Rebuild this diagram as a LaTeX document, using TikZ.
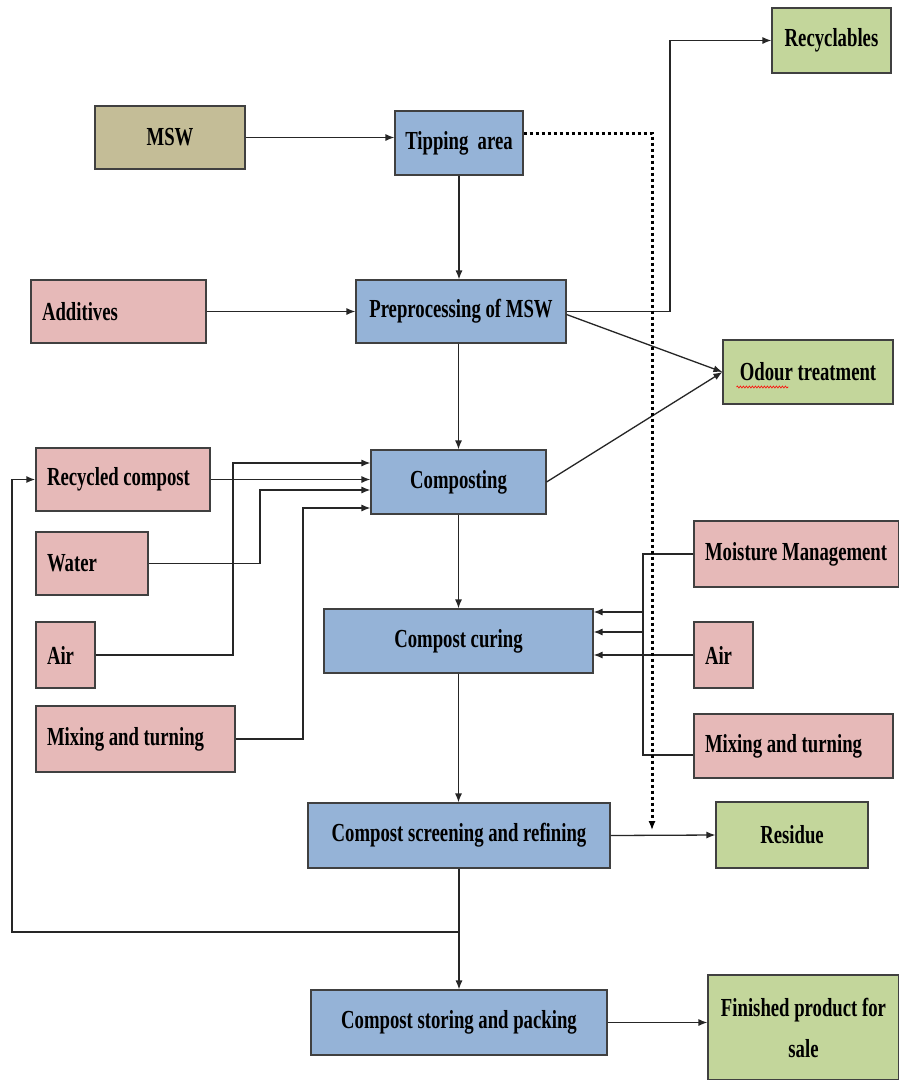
\documentclass[tikz,border=0pt]{standalone}
\usepackage{fontspec}
\setmainfont{Liberation Serif}[FakeStretch=0.72]
\usetikzlibrary{arrows.meta,decorations.pathmorphing}
\definecolor{khaki}{HTML}{C4BD97}
\definecolor{procblue}{HTML}{95B3D7}
\definecolor{inpink}{HTML}{E6B9B8}
\definecolor{outgreen}{HTML}{C3D69B}
\tikzset{
  box/.style={draw=black!75, line width=1.1pt, inner xsep=0pt, inner ysep=0pt,
    font=\fontsize{26}{41}\selectfont\bfseries, align=center},
  cbox/.style={box, minimum width=#1},
  lbox/.style={box, align=flush left, inner xsep=11pt, text width=#1},
  ln/.style={draw=black!85, line width=1.3pt},
  arr/.style={ln, -{Latex[length=9pt,width=7pt]}},
}
\begin{document}
\begin{tikzpicture}[x=1pt,y=-1pt]
\useasboundingbox[fill=white] (0,0) rectangle (899,1080);
% nodes
\node[cbox=150pt, minimum height=63pt, fill=khaki] (msw) at (170,137.5) {MSW};
\node[cbox=128pt, minimum height=64pt, fill=procblue] (tip) at (459,143) {Tipping\ \ area};
\node[cbox=119pt, minimum height=65pt, fill=outgreen] (recy) at (831.5,40.5) {Recyclables};
\node[lbox=153pt, minimum height=63pt, fill=inpink] (add) at (118.5,311.5) {Additives};
\node[cbox=210pt, minimum height=63pt, fill=procblue] (pre) at (461,311.5) {Preprocessing of MSW};
\node[cbox=170pt, minimum height=64pt, fill=outgreen] (odour) at (808,372) {Odour treatment};
\node[lbox=152pt, minimum height=63pt, fill=inpink] (rc) at (123,479.5) {Recycled compost};
\node[cbox=175pt, minimum height=64pt, fill=procblue] (comp) at (458.5,482) {Composting};
\node[lbox=90pt, minimum height=63pt, fill=inpink] (water) at (92,563.5) {Water};
\node[lbox=37pt, minimum height=66pt, fill=inpink] (airL) at (65.5,655) {Air};
\node[lbox=177pt, minimum height=66pt, fill=inpink] (mixL) at (135.5,739) {Mixing and turning};
\node[cbox=269pt, minimum height=64pt, fill=procblue] (cure) at (458.5,641) {Compost curing};
\node[lbox=183pt, minimum height=66pt, fill=inpink] (moist) at (796.5,554) {Moisture Management};
\node[lbox=37pt, minimum height=66pt, fill=inpink] (airR) at (723.5,655) {Air};
\node[lbox=177pt, minimum height=64pt, fill=inpink] (mixR) at (793.5,746) {Mixing and turning};
\node[cbox=302pt, minimum height=65pt, fill=procblue] (scr) at (459,835.5) {Compost screening and refining};
\node[cbox=152pt, minimum height=66pt, fill=outgreen] (res) at (792,835) {Residue};
\node[cbox=296pt, minimum height=65pt, fill=procblue] (sto) at (459,1022.5) {Compost storing and packing};
\node[cbox=191pt, minimum height=105pt, fill=outgreen] (fin) at (803.5,1027.5) {Finished product for\\sale};
% spell-check underline
\draw[red, line width=0.6pt, decorate, decoration={snake, amplitude=1pt, segment length=3pt}]
  ([xshift=14pt,yshift=-15pt]odour.west) -- ([xshift=66pt,yshift=-15pt]odour.west);
% coordinates
\coordinate (dt) at (652,133);
\coordinate (dend) at (652,830);
\coordinate (rk) at (670,311.5);
\coordinate (aL) at (233,463);
\coordinate (wL) at (260,490);
\coordinate (mL) at (303,508);
\coordinate (vt) at (643,554);
\coordinate (vb) at (643,755);
\coordinate (c1) at (643,612);
\coordinate (c2) at (643,632);
\coordinate (fb) at (459,932);
\coordinate (fbl) at (12,932);
% connectors
\draw[arr] (msw.east) -- (msw.east -| tip.west);
\draw[arr] (tip.south) -- (tip.south |- pre.north);
\draw[arr] (add.east) -- (add.east -| pre.west);
\draw[arr] (pre.east) -- (rk) |- (recy.west);
\draw[arr] ([yshift=-3pt]pre.east) -- (odour.west);
\draw[arr] (comp.east) -- (odour.west);
\draw[arr] (pre.south -| comp.north) -- (comp.north);
\draw[arr] (rc.east) -- (rc.east -| comp.west);
\draw[arr] (airL.east) -| (aL) -- (aL -| comp.west);
\draw[arr] (water.east) -| (wL) -- (wL -| comp.west);
\draw[arr] (mixL.east) -| (mL) -- (mL -| comp.west);
\draw[arr] (comp.south) -- (comp.south |- cure.north);
\draw[ln] (moist.west) -- (vt) -- (vb) -- (vb -| mixR.west);
\draw[arr] (c1) -- (c1 -| cure.east);
\draw[arr] (c2) -- (c2 -| cure.east);
\draw[arr] (airR.west) -- (airR.west -| cure.east);
\draw[arr] (cure.south) -- (cure.south |- scr.north);
\draw[arr] (scr.east) -- (res.west);
\draw[draw=black, line width=3pt, dash pattern=on 3pt off 3pt] (dt -| tip.east) -- (dt) -- ([yshift=8pt]dend);
\draw[draw=black, line width=1.3pt, -{Latex[length=9pt,width=7pt]}] ([yshift=9pt]dend) -- (dend);
\draw[arr] (scr.south) -- (sto.north);
\draw[ln, line width=1.8pt, -{Latex[length=9pt,width=7pt]}] (fb) -- (fbl) |- (rc.west);
\draw[arr] (sto.east) -- (sto.east -| fin.west);
\end{tikzpicture}
\end{document}
